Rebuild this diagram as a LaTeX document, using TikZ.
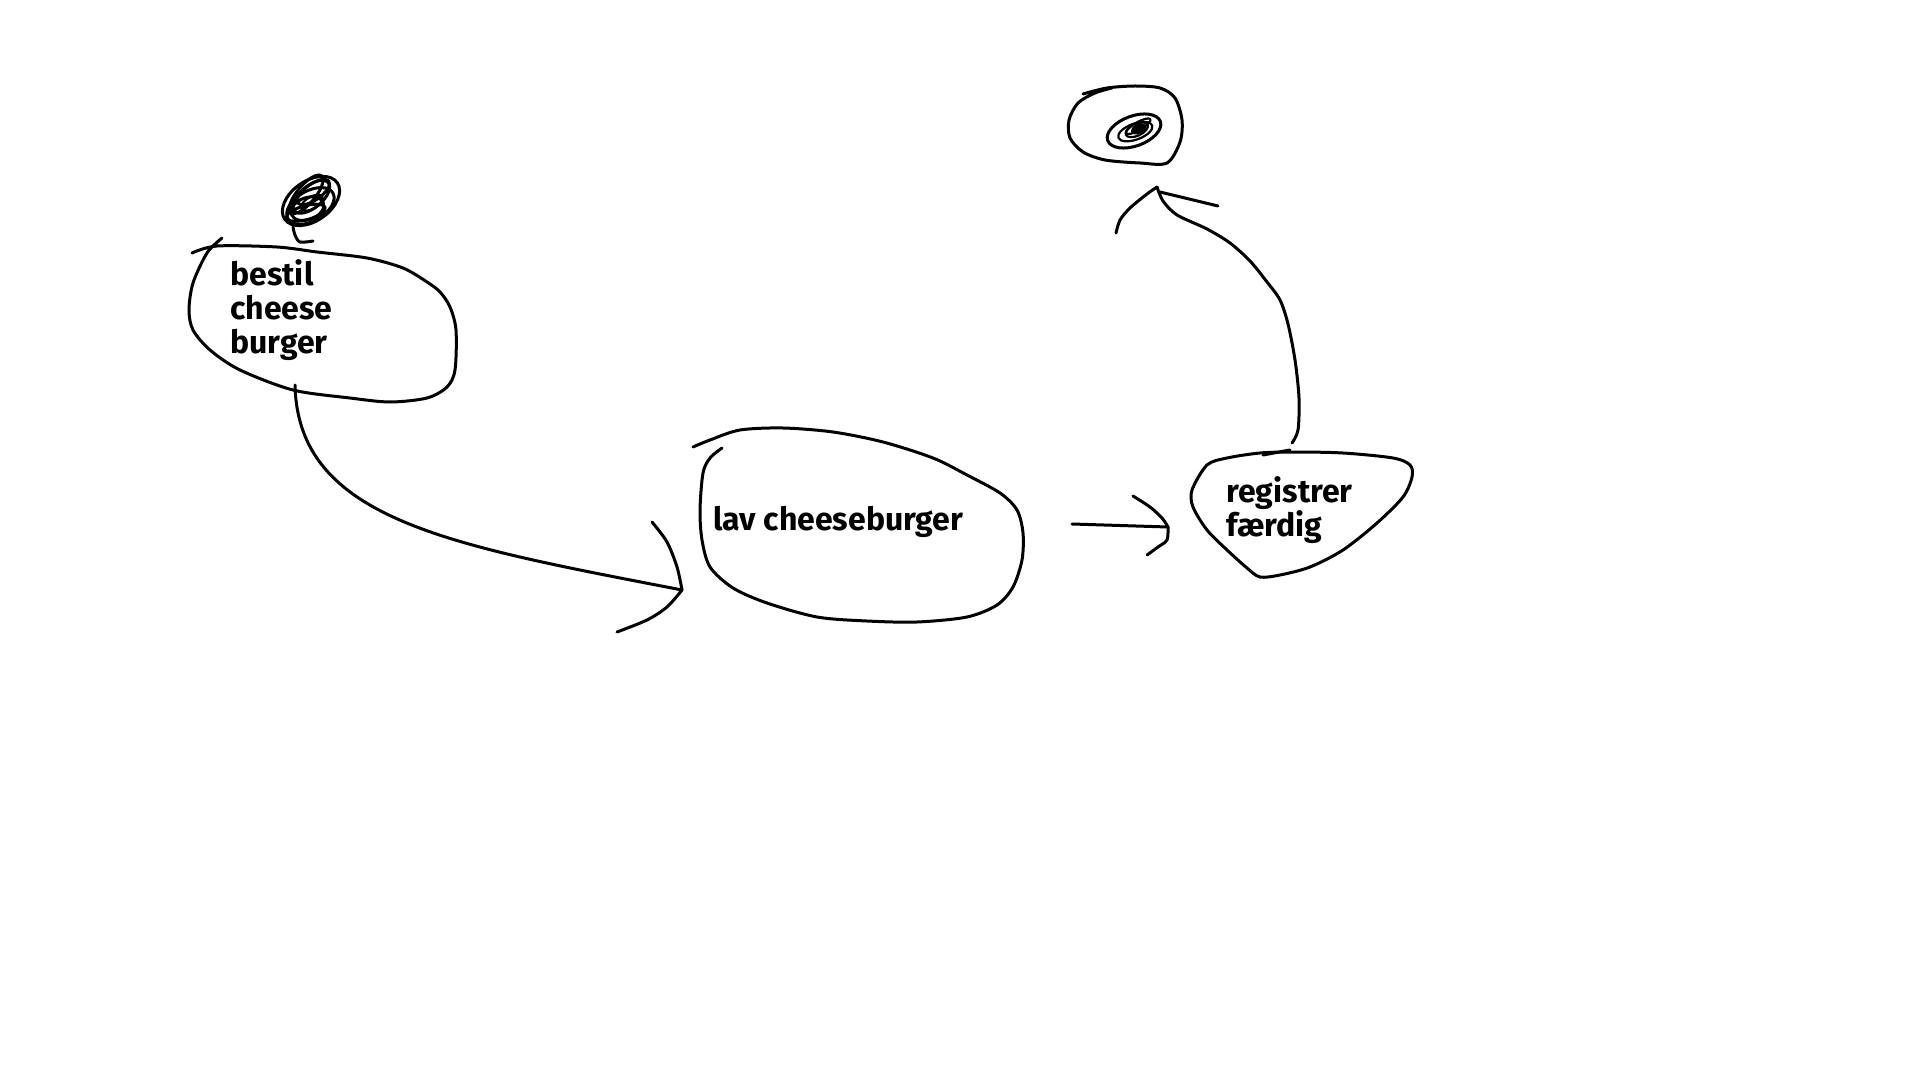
\documentclass[tikz,border=0pt]{standalone}
\usepackage{fontspec}
\setsansfont{Fira Sans}
\begin{document}
\begin{tikzpicture}[x=0.5pt,y=-0.5pt,
        pen/.style={line width=1.5pt,line cap=round,line join=round},
        fine/.style={line width=1.1pt,line cap=round,line join=round},
        txt/.style={inner sep=0pt,align=left,font=\sffamily\bfseries\fontsize{16pt}{17pt}\selectfont}]
    \path[fill=white] (0,0) rectangle (1920,1080);
    \coordinate (start) at (311,201);
    \coordinate (end) at (1134,131);
    \coordinate (bestil-out) at (295,385);
    \coordinate (lav-in) at (682,590);
    \coordinate (lav-out) at (1072,524);
    \coordinate (reg-in) at (1168,527);
    \coordinate (reg-out) at (1292,443);
    \coordinate (end-in) at (1157,187);
    \node[txt,anchor=north west] (bestil) at (230,259) {bestil\\cheese\\burger};
    \node[txt,anchor=base west] (lav) at (713,530) {lav cheeseburger};
    \node[txt,anchor=north west] (registrer) at (1226,476) {registrer\\færdig};
    \draw[pen,rotate around={35:(start)}] (start) ellipse (32 and 20);
    \draw[pen,rotate around={30:(start)}] ([shift={(-3,4)}]start) ellipse (26 and 15);
    \draw[pen,rotate around={40:(start)}] ([shift={(3,-3)}]start) ellipse (22 and 11);
    \draw[pen,rotate around={20:(start)}] ([shift={(-6,6)}]start) ellipse (17 and 11);
    \draw[pen,rotate around={35:(start)}] ([shift={(7,-6)}]start) ellipse (19 and 8);
    \draw[pen,rotate around={50:(start)}] ([shift={(2,-8)}]start) ellipse (24 and 9);
    \draw[pen,rotate around={15:(start)}] ([shift={(-8,10)}]start) ellipse (20 and 7);
    \draw[fine,rotate around={30:(start)}] ([shift={(0,2)}]start) ellipse (12 and 6);
    \draw[pen] plot[smooth] coordinates {(293,227) (295,235) (300,242) (313,241)};
    \draw[pen] plot[smooth] coordinates {(222,238) (207,253) (193,283) (189,310) (193,330) (210,350)
        (240,370) (293,390) (350,398) (390,402) (427,398) (447,387) (455,370) (456,330) (450,307)
        (440,292) (427,282) (403,268) (367,258) (317,252) (277,247) (217,246) (192,253)};
    \draw[pen] plot[smooth] coordinates {(722,448) (710,458) (703,473) (700,510) (702,540) (710,567)
        (733,588) (767,603) (817,617) (867,621) (917,622) (967,617) (997,605) (1013,587) (1022,560)
        (1023,533) (1017,510) (1000,493) (967,475) (933,458) (883,442) (833,432) (783,428) (740,430)
        (710,440) (693,447)};
    \draw[pen] plot[smooth cycle] coordinates {(1207,465) (1192,490) (1193,507) (1207,530) (1227,550)
        (1247,568) (1260,577) (1280,575) (1310,567) (1343,550) (1377,523) (1403,497) (1412,477)
        (1410,465) (1393,458) (1343,453) (1293,452) (1260,453) (1227,458)};
    \draw[pen] (1263,455) -- (1290,450);
    \draw[pen] plot[smooth] coordinates {(1083,94) (1107,88) (1135,86) (1160,88) (1175,98) (1182,120)
        (1180,142) (1167,163) (1140,163) (1105,160) (1083,152) (1070,138) (1069,120) (1078,103)
        (1095,93) (1112,88)};
    \draw[pen,rotate around={20:(end)}] (end) ellipse (28 and 15);
    \draw[fine,rotate around={20:(end)}] ([shift={(1,1)}]end) ellipse (18 and 8);
    \draw[fine,rotate around={25:(end)}] ([shift={(3,0)}]end) ellipse (12 and 6);
    \draw[fine,rotate around={30:(end)}] ([shift={(6,-2)}]end) ellipse (14 and 4);
    \fill[rotate around={25:(end)}] ([shift={(5,0)}]end) ellipse (8 and 5);
    \draw[pen] (bestil-out) .. controls (298,520) and (450,545) .. (lav-in);
    \draw[pen] plot[smooth] coordinates {(652,522) (667,542) (677,567) (lav-in)};
    \draw[pen] plot[smooth] coordinates {(lav-in) (667,607) (647,620) (617,632)};
    \draw[pen] (lav-out) -- (reg-in);
    \draw[pen] plot[smooth] coordinates {(1133,496) (1150,507) (1162,518) (reg-in)};
    \draw[pen] plot[smooth] coordinates {(reg-in) (1167,540) (1158,547) (1147,555)};
    \draw[pen] plot[smooth] coordinates {(reg-out) (1298,430) (1299,398) (1295,360) (1288,324) (1280,300)
        (1267,282) (1250,261) (1230,243) (1207,229) (1177,215) (1163,201) (end-in)};
    \draw[pen] plot[smooth] coordinates {(end-in) (1147,194) (1130,208) (1120,220) (1116,233)};
    \draw[pen] (1160,192) -- (1218,206);
\end{tikzpicture}
\end{document}
